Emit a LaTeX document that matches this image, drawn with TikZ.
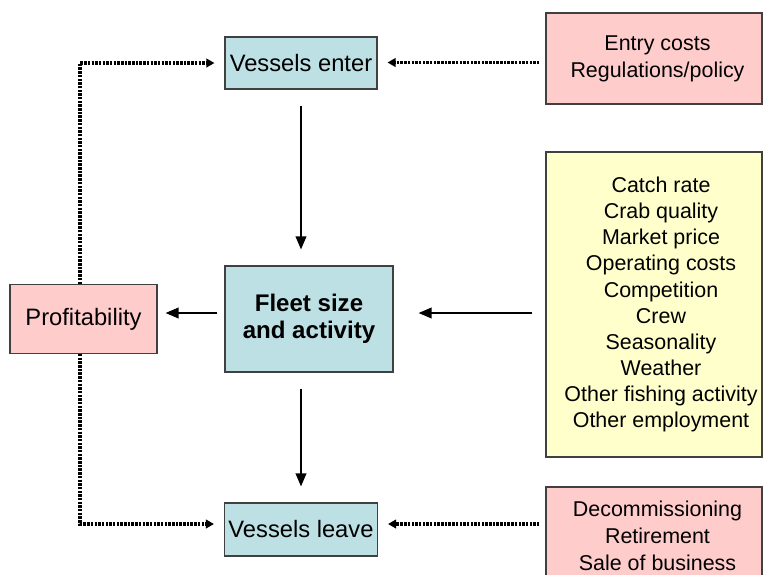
\documentclass[tikz,border=0pt]{standalone}
\usepackage{fontspec}
\setmainfont{Liberation Sans}
\usetikzlibrary{positioning,arrows.meta}
\definecolor{boxblue}{RGB}{188,224,228}
\definecolor{boxpink}{RGB}{255,204,204}
\definecolor{boxyellow}{RGB}{255,255,204}
\tikzset{
  box/.style={draw=black!75, line width=0.6pt, inner sep=0pt, align=center},
  stage/.style={box, fill=boxblue, font=\fontsize{13.5}{15.5}\selectfont},
  driver/.style={box, fill=boxyellow, font=\fontsize{12.2}{14.85}\selectfont},
  outer/.style={box, fill=boxpink, font=\fontsize{12.2}{15.2}\selectfont},
  rim/.style={draw=black!75, line width=0.6pt},
  flow/.style={-{Triangle[length=2.6mm,width=2.1mm]}, line width=1.1pt},
  feedback/.style={-{Triangle[length=1.6mm,width=1.7mm]}, line width=2pt, dash pattern=on 1.4pt off 0.7pt},
}
\begin{document}
\begin{tikzpicture}[node distance=1cm, on grid]
\clip (0,0) rectangle (15.26,-11.48);
\node[stage, minimum width=3.04cm, minimum height=1.04cm] (enter) at (6.02,-1.26) {Vessels enter};
\node[stage, minimum width=3.36cm, minimum height=2.12cm, below right=5.12cm and 0.16cm of enter,
  font=\fontsize{13.7}{15.4}\selectfont\bfseries] (fleet) {Fleet size\\and activity};
\node[stage, minimum width=3.06cm, minimum height=1.06cm, below=9.33cm of enter] (leave) {Vessels leave};
\node[box, fill=boxpink, minimum width=2.94cm, minimum height=1.38cm, left=4.51cm of fleet,
  font=\fontsize{13.5}{15.5}\selectfont] (profit) {Profitability};
\node[outer, minimum width=4.46cm, minimum height=1.82cm, above right=0.09cm and 7.13cm of enter] (costs) {Entry costs\\Regulations/policy};
\node[driver, minimum width=4.6cm, minimum height=6.1cm, below right=4.92cm and 0.07cm of costs] (factors)
  {Catch rate\\Crab quality\\Market price\\Operating costs\\Competition\\Crew\\Seasonality\\Weather\\Other fishing activity\\Other employment};
\node[outer, minimum width=4.46cm, minimum height=1.96cm, below=9.55cm of costs] (exit) {Decommissioning\\Retirement\\Sale of business};
\draw[rim] (costs.north west -| 15.24,0) -- (costs.south west -| 15.24,0);
\draw[rim] (factors.north west -| 15.24,0) -- (factors.south west -| 15.24,0);
\draw[rim] (exit.north west -| 15.24,0) -- (exit.south west -| 15.24,0);

\draw[flow, shorten <=0.32cm, shorten >=0.32cm] (enter.south) -- (enter.south |- fleet.north);
\draw[flow, shorten <=0.32cm, shorten >=0.32cm] (enter.south |- fleet.south) -- (enter.south |- leave.north);
\draw[flow, shorten <=0.14cm, shorten >=0.16cm] ([yshift=1.2mm]fleet.west) -- ([yshift=1.2mm]fleet.west -| profit.east);
\draw[flow, shorten <=0.26cm, shorten >=0.5cm] ([yshift=1.2mm]fleet.west -| factors.west) -- ([yshift=1.2mm]fleet.east);
\draw[feedback, shorten <=0.12cm, shorten >=0.2cm] ([yshift=-0.08cm]costs.west) -- ([yshift=-0.08cm]costs.west -| enter.east);
\draw[feedback, shorten <=0.12cm, shorten >=0.2cm] ([yshift=0.11cm]leave.east -| exit.west) -- ([yshift=0.11cm]leave.east);
\draw[feedback, shorten >=0.2cm] ([xshift=-0.07cm]profit.north) |- (enter.west);
\draw[feedback, shorten >=0.2cm] ([xshift=-0.07cm]profit.south) |- ([yshift=0.11cm]leave.west);
\end{tikzpicture}
\end{document}
